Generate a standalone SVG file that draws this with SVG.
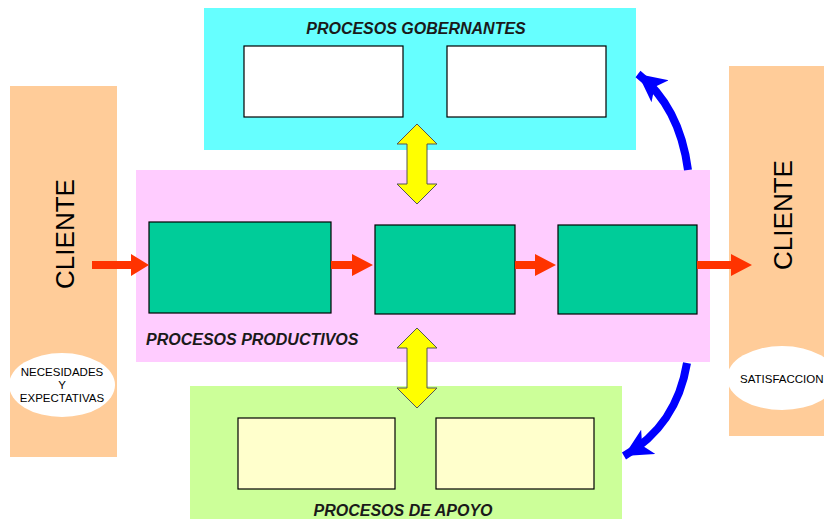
<svg xmlns="http://www.w3.org/2000/svg" width="824" height="519" viewBox="0 0 824 519">
  <style>
    .title { font-family: "Liberation Sans", Arial, sans-serif; font-weight: bold; font-style: italic; font-size: 16px; fill: #1a1a1a; }
    .client { font-family: "Liberation Sans", Arial, sans-serif; font-size: 26px; fill: #000; }
    .small { font-family: "Liberation Sans", Arial, sans-serif; font-size: 11.5px; fill: #000; }
    .box { stroke: #000; stroke-width: 1.2; }
    .red { fill: #FF3300; }
    .yellow { fill: #FFFF00; stroke: #555; stroke-width: 1; }
    .blue { fill: none; stroke: #0000FF; stroke-width: 8; }
  </style>
  <defs>
    <marker id="blueHead" markerUnits="userSpaceOnUse" markerWidth="34" markerHeight="34" refX="28" refY="14" orient="auto">
      <path d="M0,0 L28,14 L0,28 L7,14 Z" fill="#0000FF"/>
    </marker>
  </defs>

  <rect width="824" height="519" fill="#fff"/>

  <g id="gobernantes">
    <rect x="204" y="8" width="432" height="142" fill="#66FFFF"/>
    <text class="title" x="416" y="34" text-anchor="middle">PROCESOS GOBERNANTES</text>
    <rect class="box" x="244" y="46" width="159" height="71" fill="#fff"/>
    <rect class="box" x="447" y="46" width="159" height="71" fill="#fff"/>
  </g>

  <g id="productivos">
    <rect x="136" y="170" width="574" height="192" fill="#FFCCFF"/>
    <rect class="box" x="149" y="222" width="182" height="91" fill="#00CC99"/>
    <rect class="box" x="375" y="225" width="140" height="89" fill="#00CC99"/>
    <rect class="box" x="558" y="225" width="139" height="89" fill="#00CC99"/>
    <text class="title" x="146" y="345">PROCESOS PRODUCTIVOS</text>
  </g>

  <g id="apoyo">
    <rect x="190" y="386" width="432" height="133" fill="#CCFF99"/>
    <rect class="box" x="238" y="418" width="157" height="71" fill="#FFFFCC"/>
    <rect class="box" x="436" y="418" width="158" height="71" fill="#FFFFCC"/>
    <text class="title" x="403" y="516" text-anchor="middle">PROCESOS DE APOYO</text>
  </g>

  <g id="cliente-entrada">
    <rect x="10" y="86" width="107" height="371" fill="#FFCC99"/>
    <text class="client" transform="translate(74,234) rotate(-90)" text-anchor="middle">CLIENTE</text>
    <ellipse cx="62" cy="385" rx="53" ry="32" fill="#fff"/>
    <text class="small" x="62" y="376" text-anchor="middle">NECESIDADES</text>
    <text class="small" x="62" y="389" text-anchor="middle">Y</text>
    <text class="small" x="62" y="402" text-anchor="middle">EXPECTATIVAS</text>
  </g>

  <g id="cliente-salida">
    <rect x="729" y="66" width="95" height="370" fill="#FFCC99"/>
    <text class="client" transform="translate(792,215) rotate(-90)" text-anchor="middle">CLIENTE</text>
    <ellipse cx="782" cy="378" rx="55" ry="32" fill="#fff"/>
    <text class="small" x="740" y="383">SATISFACCION</text>
  </g>

  <g id="connectors">
    <!-- flow arrows through the productive chain -->
    <path class="red" d="M92,261 L131,261 L131,254 L149,265 L131,276 L131,269 L92,269 Z"/>
    <path class="red" d="M331,261 L352,261 L352,254 L373,265 L352,276 L352,269 L331,269 Z"/>
    <path class="red" d="M515,261 L535,261 L535,254 L556,265 L535,276 L535,269 L515,269 Z"/>
    <path class="red" d="M697,261 L731,261 L731,254 L752,265 L731,276 L731,269 L697,269 Z"/>
    <!-- two-way links between process layers -->
    <path class="yellow" d="M417,124 L437,144 L427,144 L427,184 L437,184 L417,204 L397,184 L407,184 L407,144 L397,144 Z"/>
    <path class="yellow" d="M417,328 L437,348 L427,348 L427,388 L437,388 L417,408 L397,388 L407,388 L407,348 L397,348 Z"/>
    <!-- feedback loops -->
    <path class="blue" d="M688,170 C682,125 665,95 638,74" marker-end="url(#blueHead)"/>
    <path class="blue" d="M687,363 C680,405 660,435 624,456" marker-end="url(#blueHead)"/>
  </g>
</svg>
